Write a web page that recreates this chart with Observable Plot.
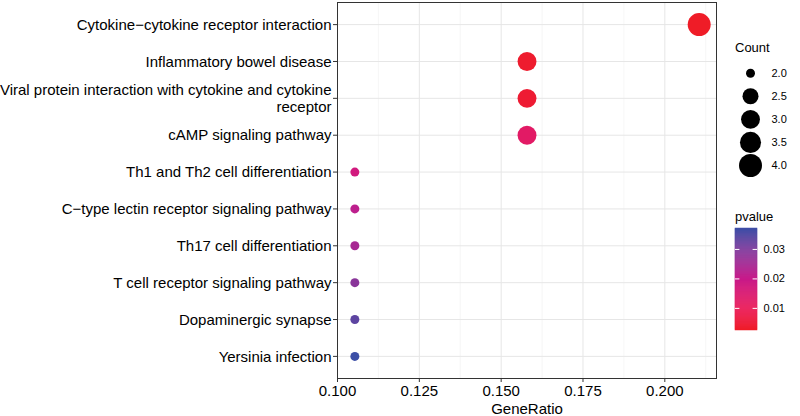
<!DOCTYPE html>
<html>
<head>
<meta charset="utf-8">
<script src="https://cdn.jsdelivr.net/npm/d3@7"></script>
<script src="https://cdn.jsdelivr.net/npm/@observablehq/plot@0.6"></script>
<style>
  html, body { margin: 0; padding: 0; background: #fff; }
  body { font-family: "Liberation Sans", Arial, Helvetica, sans-serif; }
  #wrap { position: relative; width: 800px; height: 416px; overflow: hidden; }
  #wrap > div, #wrap > svg { position: absolute; }
  .ltitle { font-size: 13px; color: #000; line-height: 1; white-space: nowrap; }
</style>
</head>
<body>
<div id="wrap">
  <div id="main" style="left:0;top:0"></div>
  <div class="ltitle" style="left:735px;top:41px">Count</div>
  <div id="countLegend" style="left:725px;top:60px"></div>
  <div class="ltitle" style="left:735px;top:210px">pvalue</div>
  <div id="pLegend" style="left:735px;top:228px"></div>
</div>
<script>
// ---- data ----
const terms = [
  "Cytokine\u2212cytokine receptor interaction",
  "Inflammatory bowel disease",
  "Viral protein interaction with cytokine and cytokine receptor",
  "cAMP signaling pathway",
  "Th1 and Th2 cell differentiation",
  "C\u2212type lectin receptor signaling pathway",
  "Th17 cell differentiation",
  "T cell receptor signaling pathway",
  "Dopaminergic synapse",
  "Yersinia infection"
];
const geneRatio = [0.2105, 0.1579, 0.1579, 0.1579, 0.1053, 0.1053, 0.1053, 0.1053, 0.1053, 0.1053];
const counts    = [4, 3, 3, 3, 2, 2, 2, 2, 2, 2];
const pvalues   = [0.0025, 0.0036, 0.0044, 0.0125, 0.0175, 0.0215, 0.0245, 0.0285, 0.0335, 0.0371];

const xTicks = [0.100, 0.125, 0.150, 0.175, 0.200];
const xMinorTicks = [0.1125, 0.1375, 0.1625, 0.1875, 0.2125];
const countLevels = [2.0, 2.5, 3.0, 3.5, 4.0];
const pTicks = [0.01, 0.02, 0.03];

// ---- derived table ----
const data = terms.map((t, i) => ({term: t, ratio: geneRatio[i], count: counts[i], p: pvalues[i]}));
const pMin = d3.min(pvalues), pMax = d3.max(pvalues);

const colorScale = {
  type: "linear",
  domain: [pMin, 0.01, 0.02, 0.03, pMax],
  range: ["#ef1c27", "#ea1a58", "#c81a8a", "#7e3a9c", "#3c4fa6"],
  interpolate: "rgb"
};
const rScale = {type: "sqrt", domain: [0, 2], range: [4.5, 11.5]};

function wrap(s, width = 52) {
  const words = s.split(" ");
  const lines = [];
  let cur = "";
  for (const w of words) {
    if ((cur + " " + w).trim().length > width) { lines.push(cur); cur = w; }
    else cur = (cur + " " + w).trim();
  }
  lines.push(cur);
  return lines.join("\n");
}

const font = "Liberation Sans, Arial, Helvetica, sans-serif";

const main = Plot.plot({
  width: 800, height: 416,
  marginLeft: 337, marginRight: 84, marginTop: 2, marginBottom: 38,
  style: {fontFamily: font, fontSize: "15px", color: "#000", background: "#fff"},
  x: {domain: [0.1, 0.21579]},
  y: {type: "point", domain: terms, padding: 0.6, round: false},
  r: rScale,
  color: colorScale,
  marks: [
    Plot.gridX(xMinorTicks, {stroke: "#f0f0f0", strokeOpacity: 1, strokeWidth: 0.6}),
    Plot.gridX(xTicks, {stroke: "#e6e6e6", strokeOpacity: 1, strokeWidth: 1}),
    Plot.gridY(terms, {stroke: "#e6e6e6", strokeOpacity: 1, strokeWidth: 1}),
    Plot.dot(data, {x: "ratio", y: "term", r: d => d.count - 2, fill: "p", stroke: null}),
    Plot.frame({stroke: "#333", strokeWidth: 1}),
    Plot.axisX(xTicks, {tickFormat: d3.format(".3f"), tickSize: 4, tickPadding: 3, stroke: "#333",
      label: "GeneRatio", labelAnchor: "center", labelArrow: "none", labelOffset: 35, fontSize: 15}),
    Plot.axisY({tickSize: 4, tickPadding: 2, stroke: "#333", tickFormat: d => wrap(d), label: null,
      fontSize: 15, lineHeight: 1.07})
  ]
});
document.getElementById("main").appendChild(main);

// ---- Count legend ----
const countLegend = Plot.plot({
  width: 75, height: 112,
  marginLeft: 0, marginRight: 25, marginTop: 0, marginBottom: 0,
  style: {fontFamily: font, fontSize: "11px", color: "#000", background: "transparent", overflow: "visible"},
  y: {domain: [2, 4], range: [12.7, 105], axis: null},
  r: rScale,
  marks: [
    Plot.dot(countLevels, {y: d => d, r: d => d - 2, fill: "#000", stroke: null}),
    Plot.text(countLevels, {y: d => d, text: d => d.toFixed(1), frameAnchor: "left", dx: 46, textAnchor: "start", fontSize: 11, fill: "#000"})
  ]
});
document.getElementById("countLegend").appendChild(countLegend);

// ---- pvalue colour bar ----
const nSlices = 100;
const step = (pMax - pMin) / nSlices;
const slices = d3.range(nSlices).map(i => pMin + i * step);
const pLegend = Plot.plot({
  width: 65, height: 102,
  marginLeft: 0, marginRight: 43, marginTop: 0, marginBottom: 0,
  style: {fontFamily: font, fontSize: "11px", color: "#000", background: "transparent", overflow: "visible"},
  x: {domain: [0, 1], axis: null},
  y: {domain: [pMin, pMax]},
  color: colorScale,
  marks: [
    Plot.rect(slices, {x1: 0, x2: 1, y1: d => d, y2: d => d + step, fill: d => d + step / 2, stroke: d => d + step / 2, strokeWidth: 0.5}),
    Plot.ruleY(pTicks, {x1: 0, x2: 0.2, stroke: "#fff", strokeWidth: 1}),
    Plot.ruleY(pTicks, {x1: 0.8, x2: 1, stroke: "#fff", strokeWidth: 1}),
    Plot.axisY(pTicks, {anchor: "right", tickSize: 0, tickPadding: 6, tickFormat: d => d.toFixed(2), label: null, fontSize: 11})
  ]
});
document.getElementById("pLegend").appendChild(pLegend);
</script>
</body>
</html>
